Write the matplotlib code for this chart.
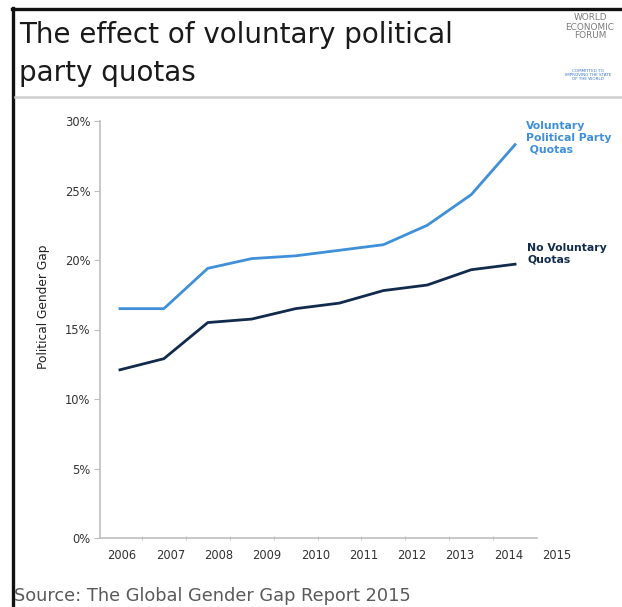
import matplotlib
matplotlib.use("Agg")
import matplotlib.pyplot as plt
from matplotlib.lines import Line2D
from matplotlib.ticker import FixedLocator, FuncFormatter

years = ["2006", "2007", "2008", "2009", "2010", "2011", "2012", "2013", "2014", "2015"]
voluntary = [16.5, 16.5, 19.4, 20.1, 20.3, 20.7, 21.1, 22.5, 24.7, 28.3]
no_voluntary = [12.1, 12.9, 15.5, 15.75, 16.5, 16.9, 17.8, 18.2, 19.3, 19.7]
y_ticks = [0, 5, 10, 15, 20, 25, 30]

W, H = 622, 607
fig = plt.figure(figsize=(W / 100, H / 100), dpi=100)
fig.patch.set_facecolor("white")

def fx(px):
    return px / W

def fy(py):
    return 1 - py / H

# frame lines
fig.add_artist(Line2D([fx(13), fx(13)], [fy(8), fy(607)], color="#111111", lw=2.4))
fig.add_artist(Line2D([fx(12), fx(622)], [fy(9), fy(9)], color="#111111", lw=2.4))
fig.add_artist(Line2D([fx(15), fx(622)], [fy(97), fy(97)], color="#cfcfcf", lw=1.8))

# title
fig.text(fx(19), fy(35), "The effect of voluntary political", fontsize=20,
         color="#1a1a1a", va="center", ha="left")
fig.text(fx(19), fy(73), "party quotas", fontsize=20,
         color="#1a1a1a", va="center", ha="left")

# logo text
fig.text(fx(590), fy(27), "WORLD\nECONOMIC\nFORUM", fontsize=6.4, color="#7a7a7a",
         ha="center", va="center", linespacing=1.0)
fig.text(fx(588), fy(75), "COMMITTED TO\nIMPROVING THE STATE\nOF THE WORLD", fontsize=3,
         color="#3b78c4", ha="center", va="center", linespacing=1.0)

# source
fig.text(fx(14), fy(596), "Source: The Global Gender Gap Report 2015", fontsize=12.8,
         color="#5a5a5a", ha="left", va="center")

x0, x1 = -0.455, 10.0
ppu = 43.9
ax_w = (x1 - x0) * ppu
ax = fig.add_axes([fx(100), fy(538), fx(100 + ax_w) - fx(100), fy(121) - fy(538)])
x = list(range(len(years)))
light = "#3f8fd9"
dark = "#122b4d"
ax.plot(x, voluntary, color=light, lw=2.0, solid_joinstyle="round")
ax.plot(x, no_voluntary, color=dark, lw=2.0, solid_joinstyle="round")

ax.yaxis.set_major_locator(FixedLocator(y_ticks))
ax.yaxis.set_major_formatter(FuncFormatter(lambda v, p: f"{int(v)}%"))
ax.tick_params(axis="y", length=4, color="#bdbdbd", labelsize=8.3, labelcolor="#333333", pad=3)

label_pos = [i * 1.1 + 0.05 for i in range(len(years))]
ax.set_xticks(label_pos)
ax.set_xticklabels(years)
ax.set_xticks([i + 0.5 for i in range(len(years) - 1)], minor=True)
ax.tick_params(axis="x", which="major", length=0, labelsize=8.3, labelcolor="#333333", pad=8)
ax.tick_params(axis="x", which="minor", length=3, direction="inout", color="#bdbdbd")

ax.set_xlim(x0, x1)
ax.set_ylim(0, 30)
for s in ["top", "right"]:
    ax.spines[s].set_visible(False)
for s in ["left", "bottom"]:
    ax.spines[s].set_color("#bdbdbd")
    ax.spines[s].set_linewidth(1.2)
ax.spines["bottom"].set_bounds(x0, 9.5)

ax.set_ylabel("Political Gender Gap", fontsize=8.8, color="#222222", va="center")
ax.yaxis.set_label_coords(-56 / ax_w, 0.554)

fam = ["Liberation Sans Narrow", "DejaVu Sans"]
ax.annotate("Voluntary\nPolitical Party\n Quotas", xy=(fx(526), fy(121)), xycoords="figure fraction",
            fontsize=7.8, fontweight="bold", family=fam, color=light, ha="left", va="top",
            linespacing=1.25, annotation_clip=False)
ax.annotate("No Voluntary\nQuotas", xy=(fx(527), fy(243)), xycoords="figure fraction",
            fontsize=7.8, fontweight="bold", family=fam, color=dark, ha="left", va="top",
            linespacing=1.25, annotation_clip=False)

fig.savefig("out.png", dpi=100, facecolor="white")
